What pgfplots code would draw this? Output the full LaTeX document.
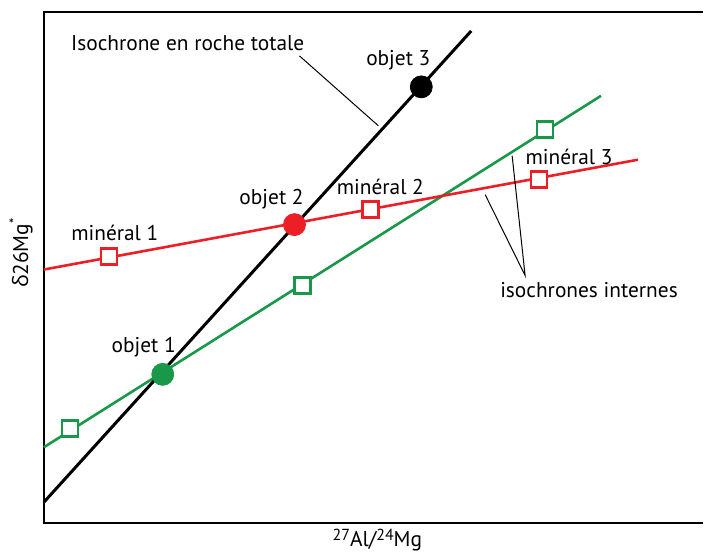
\documentclass[border=0pt]{standalone}
\usepackage{fontspec}
\setmainfont{PT Sans}
\newfontfamily\grk{Open Sans}
\usepackage{pgfplots}
\pgfplotsset{compat=1.18}
\definecolor{isored}{RGB}{236,30,38}
\definecolor{isogreen}{RGB}{24,152,72}
\begin{document}
\begin{tikzpicture}[font=\fontsize{10.7}{12}\selectfont]
  \begin{axis}[
    hide axis,
    scale only axis,
    width=330pt, height=256pt,
    xmin=44, xmax=704,
    ymin=27, ymax=539,
    clip=false,
  ]
  % page extent, in pixel units of the reference
  \path (axis cs:0,0) rectangle (axis cs:704,551);
  % frame: left, top, bottom
  \draw[line width=1.2pt] (axis cs:704,27) -- (axis cs:44,27) -- (axis cs:44,539) -- (axis cs:704,539);

  % isochrones
  \addplot[isogreen, line width=1.3pt] coordinates {(44,103) (602,455)};
  \addplot[isored, line width=1.3pt] coordinates {(44,281) (639,391)};
  \addplot[black, line width=1.5pt] coordinates {(44,48) (472,520)};

  % minerals
  \addplot[only marks, mark=square*, mark size=4pt,
    mark options={fill=white, draw=isogreen, line width=1.3pt}]
    coordinates {(70,122) (303,265) (546,421)};
  \addplot[only marks, mark=square*, mark size=4pt,
    mark options={fill=white, draw=isored, line width=1.3pt}]
    coordinates {(109,294) (371,341) (540,371)};

  % objects
  \addplot[only marks, mark=*, mark size=5.5pt, isogreen] coordinates {(163,176)};
  \addplot[only marks, mark=*, mark size=5.5pt, isored] coordinates {(295,326)};
  \addplot[only marks, mark=*, mark size=5.5pt, black] coordinates {(422,464)};

  % leaders
  \draw[line width=0.5pt] (axis cs:300,495) -- (axis cs:379,425);
  \draw[line width=0.5pt] (axis cs:513,395) -- (axis cs:526,275) -- (axis cs:486,356);

  % labels
  \node at (axis cs:188,508) {Isochrone en roche totale};
  \node at (axis cs:399,491) {objet 3};
  \node at (axis cs:570,394) {minéral 3};
  \node at (axis cs:272,352) {objet 2};
  \node at (axis cs:381,364) {minéral 2};
  \node at (axis cs:115,318) {minéral 1};
  \node at (axis cs:590,260) {isochrones internes};
  \node at (axis cs:144,203) {objet 1};
  \node[rotate=90] at (axis cs:21,298) {{\grk δ}26Mg\textsuperscript{*}};
  \node at (axis cs:378,10) {\raisebox{0.5ex}{\fontsize{8}{9}\selectfont 27}Al/\raisebox{0.5ex}{\fontsize{8}{9}\selectfont 24}Mg};
  \end{axis}
\end{tikzpicture}
\end{document}
